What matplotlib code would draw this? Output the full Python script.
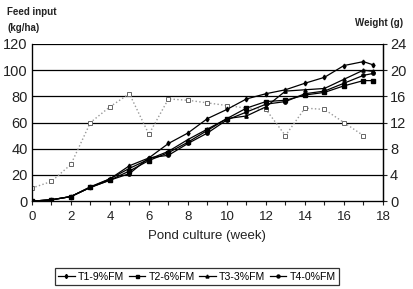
import matplotlib
matplotlib.use('Agg')
import matplotlib.pyplot as plt

weeks = [0, 1, 2, 3, 4, 5, 6, 7, 8, 9, 10, 11, 12, 13, 14, 15, 16, 17, 17.5]
t1 = [0, 1, 3.5, 10.5, 17, 27, 33, 44, 52, 63, 70, 78, 82, 85, 90, 94.5, 103.5, 106.5, 104]
t2 = [0, 1, 3.5, 10.5, 16, 23, 31, 37, 45, 54, 63, 71, 76, 77, 81, 83, 88, 92, 92]
t3 = [0, 1, 3.5, 11, 17, 25, 32, 38, 47, 55, 63, 65, 72, 84, 85, 86, 93, 100, 99]
t4 = [0, 1, 3.5, 10.5, 16, 21, 33, 35, 44, 52, 62, 68, 74, 76, 82, 84, 90, 96, 97.5]

feed_weeks = [0, 1, 2, 3, 4, 5, 6, 7, 8, 9, 10, 11, 12, 13, 14, 15, 16, 17]
feed = [10, 15, 28, 60, 72, 82, 51, 78, 77, 75, 73, 71, 70, 50, 71, 70, 60, 50]

labels = ['T1-9%FM', 'T2-6%FM', 'T3-3%FM', 'T4-0%FM']
markers = ['d', 's', '^', 'o']

plt.rcParams['font.family'] = ['Liberation Sans', 'DejaVu Sans']
fig = plt.figure(figsize=(4.14, 2.89), dpi=100)
ax = fig.add_axes([0.077, 0.304, 0.848, 0.544])

for y in [20, 40, 60, 80, 100, 120]:
    ax.axhline(y, color='black', lw=0.9, zorder=1)

ax.plot(feed_weeks, feed, ls=':', color='#999999', lw=1, marker='s', ms=3,
        mfc='white', mec='#666666', mew=0.7, zorder=2)

for vals, lab, m in zip([t1, t2, t3, t4], labels, markers):
    ax.plot(weeks, vals, color='black', lw=0.9, marker=m, ms=2.4, label=lab, zorder=3)

ax.set_xlim(0, 18)
ax.set_ylim(0, 120)
ax.set_xticks(range(0, 19))
ax.set_xticklabels([str(i) if i % 2 == 0 else '' for i in range(0, 19)])
ax.set_yticks(range(0, 121, 20))
ax.tick_params(axis='x', direction='out', length=3, width=0.8, labelsize=9.5, colors='#222222', pad=4)
ax.tick_params(axis='y', length=0, labelsize=10.5, colors='#222222', pad=3)
ax.spines['top'].set_visible(False)
for s in ['left', 'bottom', 'right']:
    ax.spines[s].set_linewidth(0.9)

ax2 = ax.twinx()
ax2.set_ylim(0, 24)
ax2.set_yticks(range(0, 25, 4))
ax2.tick_params(axis='y', direction='out', length=3, width=0.8, labelsize=10.5, colors='#222222', pad=2)
ax2.spines['top'].set_visible(False)
ax2.spines['right'].set_linewidth(0.9)

ax.set_xlabel('Pond culture (week)', fontsize=9.5, color='#222222', labelpad=5)

fig.text(0.018, 0.93, 'Feed input\n(kg/ha)', fontsize=7, fontweight='bold',
         color='#222222', ha='left', va='center', linespacing=1.7)
fig.text(0.858, 0.922, 'Weight (g)', fontsize=7, fontweight='bold',
         color='#222222', ha='left', va='center')

leg = ax.legend(loc='center', bbox_to_anchor=(0.47, -0.48), ncol=4, fontsize=7.6,
                frameon=True, fancybox=False, edgecolor='black', handlelength=1.6,
                handletextpad=0.3, columnspacing=0.4, borderpad=0.3, markerscale=0.9)
leg.get_frame().set_linewidth(0.9)

fig.savefig('out.png', dpi=100)
